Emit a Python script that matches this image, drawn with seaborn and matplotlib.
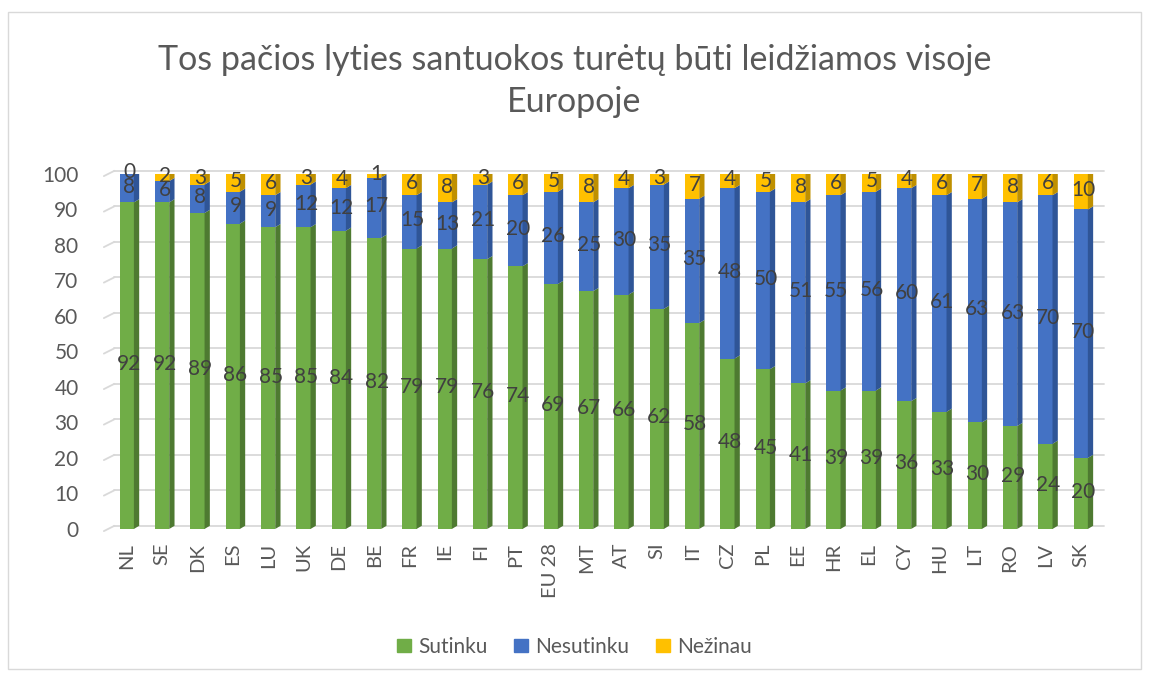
import matplotlib
matplotlib.use("Agg")
import matplotlib.pyplot as plt
from matplotlib.patches import Rectangle, Patch
import numpy as np
import pandas as pd
import seaborn as sns

countries = ["NL", "SE", "DK", "ES", "LU", "UK", "DE", "BE", "FR", "IE", "FI", "PT",
             "EU 28", "MT", "AT", "SI", "IT", "CZ", "PL", "EE", "HR", "EL", "CY", "HU",
             "LT", "RO", "LV", "SK"]
sutinku = [92, 92, 89, 86, 85, 85, 84, 82, 79, 79, 76, 74, 69, 67, 66, 62, 58, 48, 45,
           41, 39, 39, 36, 33, 30, 29, 24, 20]
nesutinku = [8, 6, 8, 9, 9, 12, 12, 17, 15, 13, 21, 20, 26, 25, 30, 35, 35, 48, 50, 51,
             55, 56, 60, 61, 63, 63, 70, 70]
nezinau = [0, 2, 3, 5, 6, 3, 4, 1, 6, 8, 3, 6, 5, 8, 4, 3, 7, 4, 5, 8, 6, 5, 4, 6, 7, 8,
           6, 10]
series_names = ["Sutinku", "Nesutinku", "Nežinau"]
title = "Tos pačios lyties santuokos turėtų būti leidžiamos visoje\nEuropoje"
yticks = [0, 10, 20, 30, 40, 50, 60, 70, 80, 90, 100]

front = ["#70AD47", "#4472C4", "#FFC000"]
side = ["#4E7A31", "#2F5597", "#BF9000"]
topc = ["#8CC168", "#6A8FD3", "#FFD34D"]
text_col = "#595959"
label_col = "#404040"
grid_col = "#D9D9D9"

sns.set_theme(style="white")
plt.rcParams["font.family"] = ["Lato", "DejaVu Sans"]

fig = plt.figure(figsize=(11.49, 6.78), dpi=100)
ax = fig.add_axes([0.095, 0.2198, 0.861, 0.5236])

df = pd.DataFrame({"country": countries, "s": sutinku, "n": nesutinku, "z": nezinau})
df["sn"] = df["s"] + df["n"]
df["total"] = df["sn"] + df["z"]

W = 0.40      # front face width
D = 0.15      # depth offset (x, data units)
DY = 0.9      # depth offset (y, data units)

# background grid on the back wall with a short receding segment at the left
for v in yticks:
    ax.plot([-0.5 + D, len(countries) - 0.5 + D], [v + DY, v + DY],
            color=grid_col, lw=1.3, zorder=0, clip_on=False)
    ax.plot([-0.5 - 0.15, -0.5 + D], [v - 0.6, v + DY],
            color=grid_col, lw=1.3, zorder=0, clip_on=False)

# stacked front faces, tallest layer first
for col, c in zip(["total", "sn", "s"], [front[2], front[1], front[0]]):
    sns.barplot(data=df, x="country", y=col, color=c, width=W, saturation=1,
                ax=ax, zorder=2, edgecolor="none")

# side and top faces for the 3D look
layers = [np.array(sutinku), np.array(nesutinku), np.array(nezinau)]
bottom = np.zeros(len(countries))
for k, vals in enumerate(layers):
    top = bottom + vals
    for i in range(len(countries)):
        if vals[i] <= 0:
            continue
        xr = i + W / 2
        ax.fill([xr, xr + D, xr + D, xr], [bottom[i], bottom[i] + DY, top[i] + DY, top[i]],
                color=side[k], zorder=3, lw=0)
    bottom = top
totals = bottom
for i in range(len(countries)):
    k = 2 if nezinau[i] > 0 else 1
    xl, xr = i - W / 2, i + W / 2
    ax.fill([xl, xr, xr + D, xl + D], [totals[i], totals[i], totals[i] + DY, totals[i] + DY],
            color=topc[k], zorder=3, lw=0)

# value labels centred on each segment
bottom = np.zeros(len(countries))
for vals in layers:
    for i in range(len(countries)):
        ax.text(i + D / 2, bottom[i] + vals[i] / 2 + DY / 2, str(vals[i]),
                ha="center", va="center", fontsize=15, color=label_col, zorder=5)
    bottom = bottom + vals

ax.set_xlim(-0.5, len(countries) - 0.5)
ax.set_ylim(0, 100)
ax.set_yticks(yticks)
ax.set_xlabel("")
ax.set_ylabel("")
ax.tick_params(axis="y", labelsize=15, colors=text_col, pad=22, length=0)
ax.tick_params(axis="x", labelsize=14.5, colors=text_col, pad=10, length=0, rotation=90)
for s in ax.spines.values():
    s.set_visible(False)
ax.patch.set_alpha(0)

fig.suptitle(title, y=0.935, fontsize=24.5, color=text_col, linespacing=1.4)

handles = [Patch(color=c, label=n) for c, n in zip(front, series_names)]
fig.legend(handles=handles, loc="center", bbox_to_anchor=(0.5, 0.046), ncol=3,
           frameon=False, fontsize=15, handlelength=0.65, handleheight=0.65,
           columnspacing=1.3, handletextpad=0.35, labelcolor=text_col)

fig.patches.append(Rectangle((0.007, 0.013), 0.986, 0.97, transform=fig.transFigure,
                             fill=False, edgecolor=grid_col, lw=1))

fig.savefig("out.png", dpi=100)
